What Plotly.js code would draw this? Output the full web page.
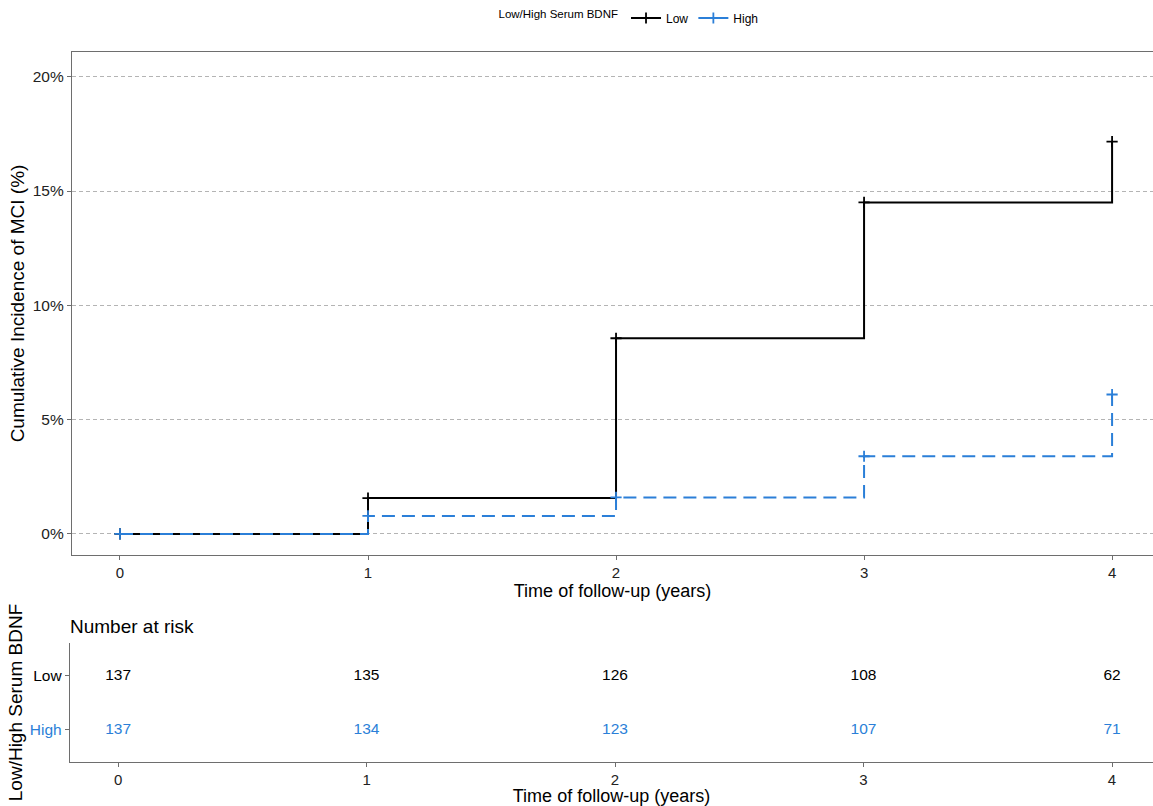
<!DOCTYPE html>
<html>
<head>
<meta charset="utf-8">
<script src="https://cdn.plot.ly/plotly-3.0.1.min.js"></script>
<style>html,body{margin:0;padding:0;background:#fff;}#chart{width:1153px;height:806px;}</style>
</head>
<body>
<div id="chart"></div>
<script>
// ---- data ----
var times = [0, 1, 2, 3, 4];
var groupNames = ["Low", "High"];
var incidenceLow = [0, 1.57, 8.56, 14.5, 17.16];
var incidenceHigh = [0, 0.79, 1.6, 3.4, 6.1];
var riskLow = [137, 135, 126, 108, 62];
var riskHigh = [137, 134, 123, 107, 71];
var yTicks = [0, 5, 10, 15, 20];

var BLUE = "#2b7fd8";
var FONT = "Liberation Sans, Arial, sans-serif";

var traces = [
  {
    x: times, y: incidenceLow, name: groupNames[0], type: "scatter", mode: "lines+markers",
    line: {shape: "hv", color: "#000000", width: 2},
    marker: {symbol: "cross-thin", size: 8, line: {color: "#000000", width: 1.8}},
    xaxis: "x", yaxis: "y"
  },
  {
    x: times, y: incidenceHigh, name: groupNames[1], type: "scatter", mode: "lines+markers",
    line: {shape: "hv", color: BLUE, width: 2, dash: "13px,7px"},
    marker: {symbol: "cross-thin", size: 8, line: {color: BLUE, width: 1.8}},
    xaxis: "x", yaxis: "y"
  },
  {
    x: times, y: times.map(function(){return 2;}), text: riskLow.map(String),
    type: "scatter", mode: "text", textfont: {family: FONT, size: 15.5, color: "#000000"},
    showlegend: false, hoverinfo: "skip", xaxis: "x2", yaxis: "y2"
  },
  {
    x: times, y: times.map(function(){return 1;}), text: riskHigh.map(String),
    type: "scatter", mode: "text", textfont: {family: FONT, size: 15.5, color: BLUE},
    showlegend: false, hoverinfo: "skip", xaxis: "x2", yaxis: "y2"
  }
];

var W = 1153, H = 806;
function px(v){return v / W;}
function py(v){return 1 - v / H;}

var layout = {
  width: W, height: H,
  margin: {l: 0, r: 0, t: 0, b: 0},
  paper_bgcolor: "#ffffff", plot_bgcolor: "#ffffff",
  font: {family: FONT, color: "#000000"},
  showlegend: true,
  legend: {
    orientation: "h", x: px(630), xanchor: "center", y: py(18), yanchor: "middle",
    font: {size: 12, family: FONT},
    title: {text: "Low/High Serum BDNF", side: "left", font: {size: 11.5, family: FONT}},
    itemwidth: 30, tracegroupgap: 0
  },
  xaxis: {
    domain: [px(72), 1], range: [-0.1935, 4.165],
    tickvals: times, ticktext: times.map(String),
    showgrid: false, zeroline: false,
    showline: true, linecolor: "#6e6e6e", linewidth: 1.2, mirror: true,
    ticks: "outside", ticklen: 4, tickcolor: "#6e6e6e",
    tickfont: {size: 15, family: FONT, color: "#222"},
    title: {text: "Time of follow-up (years)", font: {size: 18, family: FONT}, standoff: 3},
    automargin: false, anchor: "y"
  },
  yaxis: {
    domain: [py(555), py(52)], range: [-0.92, 21.08],
    tickvals: yTicks, ticktext: yTicks.map(function(v){return v + "%";}),
    showgrid: true, gridcolor: "#b4b4b4", gridwidth: 1, griddash: "4px,3px",
    zeroline: false,
    showline: true, linecolor: "#6e6e6e", linewidth: 1.2,
    ticks: "outside", ticklen: 4, tickcolor: "#6e6e6e",
    tickfont: {size: 15.5, family: FONT, color: "#222"},
    title: {text: "Cumulative Incidence of MCI (%)", font: {size: 19, family: FONT}, standoff: 3},
    automargin: false, anchor: "x"
  },
  xaxis2: {
    domain: [px(70), 1], range: [-0.1935, 4.165],
    tickvals: times, ticktext: times.map(String),
    showgrid: false, zeroline: false,
    showline: true, linecolor: "#6e6e6e", linewidth: 1.2,
    ticks: "outside", ticklen: 4, tickcolor: "#6e6e6e",
    tickfont: {size: 15, family: FONT, color: "#222"},
    title: {text: "Time of follow-up (years)", font: {size: 18, family: FONT}, standoff: 0},
    automargin: false, anchor: "y2"
  },
  yaxis2: {
    domain: [py(762), py(643)], range: [0.407, 2.61],
    tickvals: [1, 2],
    ticktext: ['<span style="color:' + BLUE + '">' + groupNames[1] + '</span>', groupNames[0]],
    showgrid: false, zeroline: false,
    showline: true, linecolor: "#6e6e6e", linewidth: 1.2,
    ticks: "outside", ticklen: 4, tickcolor: "#6e6e6e",
    tickfont: {size: 15.5, family: FONT, color: "#000"},
    title: {text: "Low/High Serum BDNF", font: {size: 19, family: FONT}, standoff: 2},
    automargin: false, anchor: "x2"
  },
  annotations: [
    {text: "Number at risk", xref: "paper", yref: "paper", x: px(68), y: py(626),
     xanchor: "left", yanchor: "middle", showarrow: false, font: {size: 19, family: FONT, color: "#000"}}
  ]
};

Plotly.newPlot("chart", traces, layout, {displayModeBar: false, staticPlot: true});
</script>
</body>
</html>
